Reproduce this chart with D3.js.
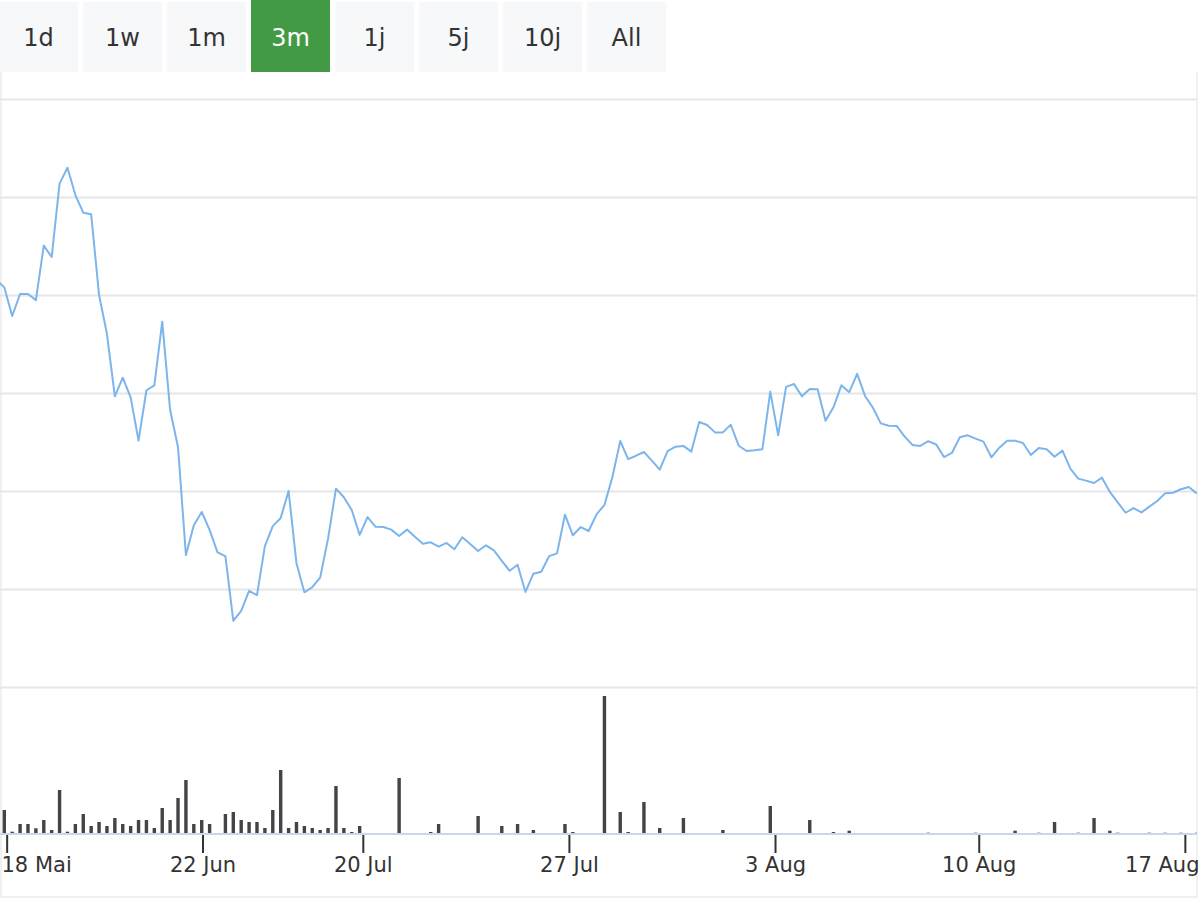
<!DOCTYPE html>
<html lang="de">

<head>
    <meta charset="UTF-8">
    <title>Kursverlauf 3m</title>
    <script src="https://d3js.org/d3.v7.min.js"></script>
    <style>
        body { margin: 0; background: #fff; }
        svg { display: block; font-family: "DejaVu Sans", sans-serif; }
    </style>
</head>

<body>
    <svg id="chart" width="1200" height="900"></svg>
<script>
    // range selector
    const ranges = ['1d', '1w', '1m', '3m', '1j', '5j', '10j', 'All'];
    const selectedRange = '3m';

    // closing prices, one per point of the ordinal axis
    const price = [
        60.77, 60.39, 58.93, 60.05, 60.05, 59.74, 62.52, 61.94, 65.68, 66.49,
        65.10, 64.20, 64.12, 60.00, 58.01, 54.83, 55.78, 54.78, 52.57, 55.14,
        55.39, 58.64, 54.13, 52.23, 46.73, 48.25, 48.93, 48.01, 46.87, 46.68,
        43.38, 43.88, 44.90, 44.69, 47.19, 48.21, 48.62, 50.00, 46.31, 44.83,
        45.09, 45.58, 47.57, 50.12, 49.68, 49.03, 47.76, 48.67, 48.18, 48.16,
        48.03, 47.70, 48.03, 47.67, 47.31, 47.38, 47.16, 47.35, 47.03, 47.64,
        47.30, 46.94, 47.23, 46.97, 46.44, 45.93, 46.24, 44.85, 45.78, 45.88,
        46.68, 46.82, 48.79, 47.74, 48.16, 47.96, 48.81, 49.29, 50.70, 52.55,
        51.63, 51.80, 51.99, 51.55, 51.09, 52.04, 52.26, 52.30, 52.01, 53.52,
        53.37, 52.99, 52.99, 53.38, 52.31, 52.04, 52.08, 52.13, 55.07, 52.84,
        55.31, 55.46, 54.83, 55.20, 55.19, 53.59, 54.27, 55.39, 55.04, 55.98,
        54.85, 54.25, 53.45, 53.33, 53.32, 52.79, 52.35, 52.30, 52.54, 52.38,
        51.73, 51.94, 52.74, 52.84, 52.67, 52.52, 51.72, 52.21, 52.56, 52.56,
        52.45, 51.84, 52.19, 52.13, 51.75, 52.06, 51.14, 50.63, 50.53, 50.41,
        50.68, 49.96, 49.42, 48.89, 49.13, 48.91, 49.20, 49.49, 49.88, 49.91,
        50.09, 50.20, 49.88
    ];

    // traded volume for the same points
    const volume = [
        0, 2400, 230, 1000, 1000, 570, 1400, 400, 4400, 230,
        1000, 2000, 800, 1200, 800, 1600, 1000, 800, 1400, 1400,
        600, 2600, 1400, 3600, 5400, 1000, 1400, 1000, 0, 2000,
        2200, 1400, 1200, 1200, 600, 2400, 6400, 600, 1200, 800,
        600, 400, 600, 4800, 600, 200, 800, 0, 0, 0,
        0, 5600, 0, 0, 0, 200, 1000, 0, 0, 0,
        0, 1800, 0, 0, 800, 0, 1000, 0, 400, 0,
        0, 0, 1000, 200, 0, 0, 0, 13800, 0, 2200,
        200, 0, 3200, 0, 600, 0, 0, 1600, 0, 0,
        0, 0, 400, 0, 0, 0, 0, 0, 2800, 0,
        0, 0, 0, 1400, 0, 0, 200, 0, 330, 0,
        0, 0, 0, 0, 0, 0, 0, 0, 130, 0,
        0, 0, 0, 0, 130, 0, 0, 0, 0, 330,
        0, 0, 130, 0, 1200, 0, 0, 130, 0, 1600,
        0, 330, 130, 0, 0, 0, 130, 0, 130, 0,
        130, 0, 130
    ];

    // date ticks sit between points on the ordinal axis
    const tickLabels = ['18 Mai', '22 Jun', '20 Jul', '27 Jul', '3 Aug', '10 Aug', '17 Aug'];
    const tickAt = [1.3, 26.1, 46.4, 72.5, 98.6, 124.4, 150.5];
    const priceTicks = [40, 45, 50, 55, 60, 65, 70];

    const W = 1200, plotRight = 1197;
    const svg = d3.select('#chart');

    const x = d3.scaleLinear().domain([0, price.length - 1]).range([-3.6, 1196.7]);
    const yPrice = d3.scaleLinear().domain([40, 70]).range([687, 99]);
    const yVol = d3.scaleLinear().domain([0, 14700]).range([834, 687]);

    // frame
    svg.append('path')
        .attr('d', `M1,72 V897 H${plotRight} V72`)
        .attr('fill', 'none')
        .attr('stroke', '#f0f0f0')
        .attr('stroke-width', 2);

    // buttons
    const band = d3.scaleBand().domain(ranges).range([-1, 666]).paddingInner(5 / 84);
    const btn = svg.append('g').selectAll('g')
        .data(ranges)
        .join('g')
        .attr('transform', d => `translate(${band(d)},0)`);
    btn.append('rect')
        .attr('y', d => d === selectedRange ? 0 : 2)
        .attr('width', band.bandwidth())
        .attr('height', d => d === selectedRange ? 72 : 70)
        .attr('fill', d => d === selectedRange ? '#439a44' : '#f7f8fa');
    btn.append('text')
        .attr('x', band.bandwidth() / 2)
        .attr('y', 45.5)
        .attr('text-anchor', 'middle')
        .attr('font-size', 24)
        .attr('fill', d => d === selectedRange ? '#ffffff' : '#333333')
        .text(d => d);

    // grid lines of the price axis
    const grid = svg.append('g')
        .call(d3.axisLeft(yPrice).tickValues(priceTicks).tickSize(-plotRight).tickFormat(''));
    grid.select('.domain').remove();
    grid.selectAll('line').attr('stroke', '#e6e6e6').attr('stroke-width', 2);

    svg.append('clipPath').attr('id', 'plot')
        .append('rect').attr('x', 0).attr('y', 90).attr('width', plotRight).attr('height', 760);

    // volume columns
    svg.append('g').attr('clip-path', 'url(#plot)')
        .selectAll('rect')
        .data(volume.map((v, i) => ({ v, i })).filter(d => d.v > 0))
        .join('rect')
        .attr('x', d => x(d.i) - 1.7)
        .attr('width', 3.4)
        .attr('y', d => yVol(d.v))
        .attr('height', d => yVol(0) - yVol(d.v))
        .attr('fill', '#434348');

    // price line
    const line = d3.line().x((d, i) => x(i)).y(d => yPrice(d));
    svg.append('path')
        .datum(price)
        .attr('clip-path', 'url(#plot)')
        .attr('d', line)
        .attr('fill', 'none')
        .attr('stroke', '#7cb5ec')
        .attr('stroke-width', 2)
        .attr('stroke-linejoin', 'round');

    // x axis
    const xAxis = svg.append('g')
        .attr('transform', `translate(0,${yVol(0)})`)
        .call(d3.axisBottom(x).tickValues(tickAt).tickFormat((d, i) => tickLabels[i])
            .tickSize(19).tickPadding(4));
    xAxis.select('.domain').remove();
    xAxis.selectAll('.tick line').attr('stroke', '#333333').attr('stroke-width', 2);
    xAxis.selectAll('.tick text')
        .attr('font-size', 21)
        .attr('font-family', '"DejaVu Sans", sans-serif')
        .attr('fill', '#333333');
    svg.append('line')
        .attr('x1', 0).attr('x2', plotRight)
        .attr('y1', yVol(0)).attr('y2', yVol(0))
        .attr('stroke', '#ccd6eb')
        .attr('stroke-width', 2);

    // keep edge labels inside the chart
    xAxis.selectAll('.tick').each(function (d) {
        const t = d3.select(this).select('text');
        const w = t.node().getComputedTextLength();
        const left = x(d) - w / 2;
        if (left < 1) t.attr('x', 1 - left);
        if (left + w > W - 1) t.attr('x', W - 1 - (left + w));
    });
</script>
</body>

</html>
